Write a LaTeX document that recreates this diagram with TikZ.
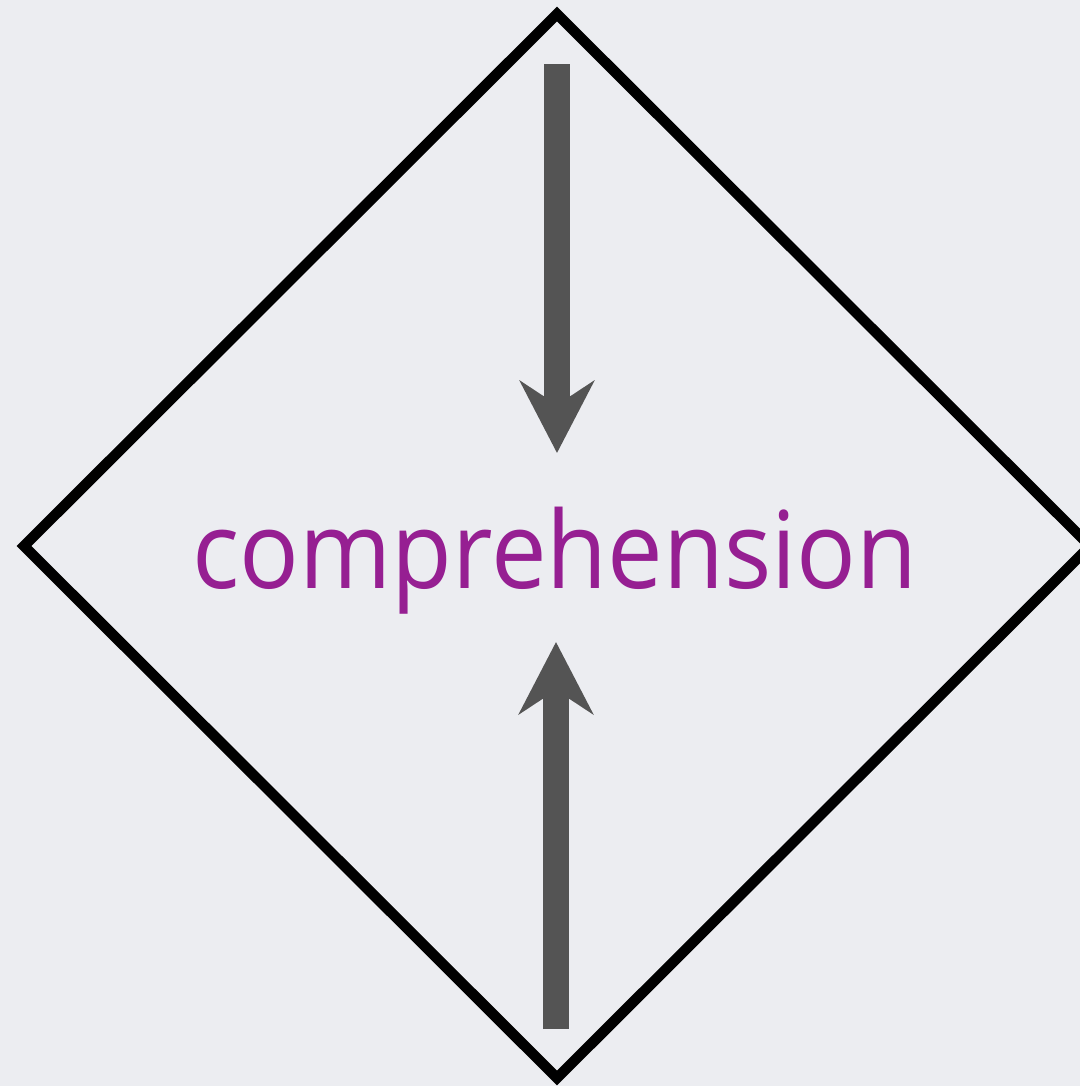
\documentclass[tikz,border=0pt]{standalone}
\usepackage{fontspec}
\setmainfont{Open Sans}
\usetikzlibrary{arrows.meta, positioning}
\definecolor{dgBack}{RGB}{236, 237, 241}
\definecolor{dgWord}{RGB}{150, 31, 146}
\definecolor{dgArrow}{RGB}{84, 84, 84}
\tikzset{
  Frame/.style  = {draw=black, line width=1.05mm, line join=miter},
  Push/.style   = {draw=dgArrow, line width=2.6mm, line cap=butt,
                   -{Stealth[length=7.2mm, width=7.4mm, inset=2.4mm]}},
  Word/.style   = {text=dgWord, anchor=base, inner sep=0pt, xscale=0.925,
                   font=\fontsize{30.5}{36}\selectfont},
}

\begin{document}
\begin{tikzpicture}[x=0.1mm, y=-0.1mm]

% ======================= canvas ==========================================
\fill[dgBack] (0,0) rectangle (1080,1086);
\useasboundingbox (0,0) rectangle (1080,1086);
\clip (0,0) rectangle (1080,1086);

% ======================= diamond =========================================
\coordinate (top)    at (557, 14);
\coordinate (left)   at (24, 546);
\coordinate (right)  at (1090, 546);
\coordinate (bottom) at (557, 1078);
\draw[Frame] (top) -- (right) -- (bottom) -- (left) -- cycle;

% ======================= word and arrows =================================
\node[Word] (word) at (555, 588) {comprehension};
\coordinate (upStart)  at (557, 64);
\coordinate (upEnd)    at (557, 453);
\coordinate (lowStart) at (556, 1029);
\coordinate (lowEnd)   at (556, 642);
\draw[Push] (upStart) -- (upEnd);
\draw[Push] (lowStart) -- (lowEnd);

\end{tikzpicture}
\end{document}
